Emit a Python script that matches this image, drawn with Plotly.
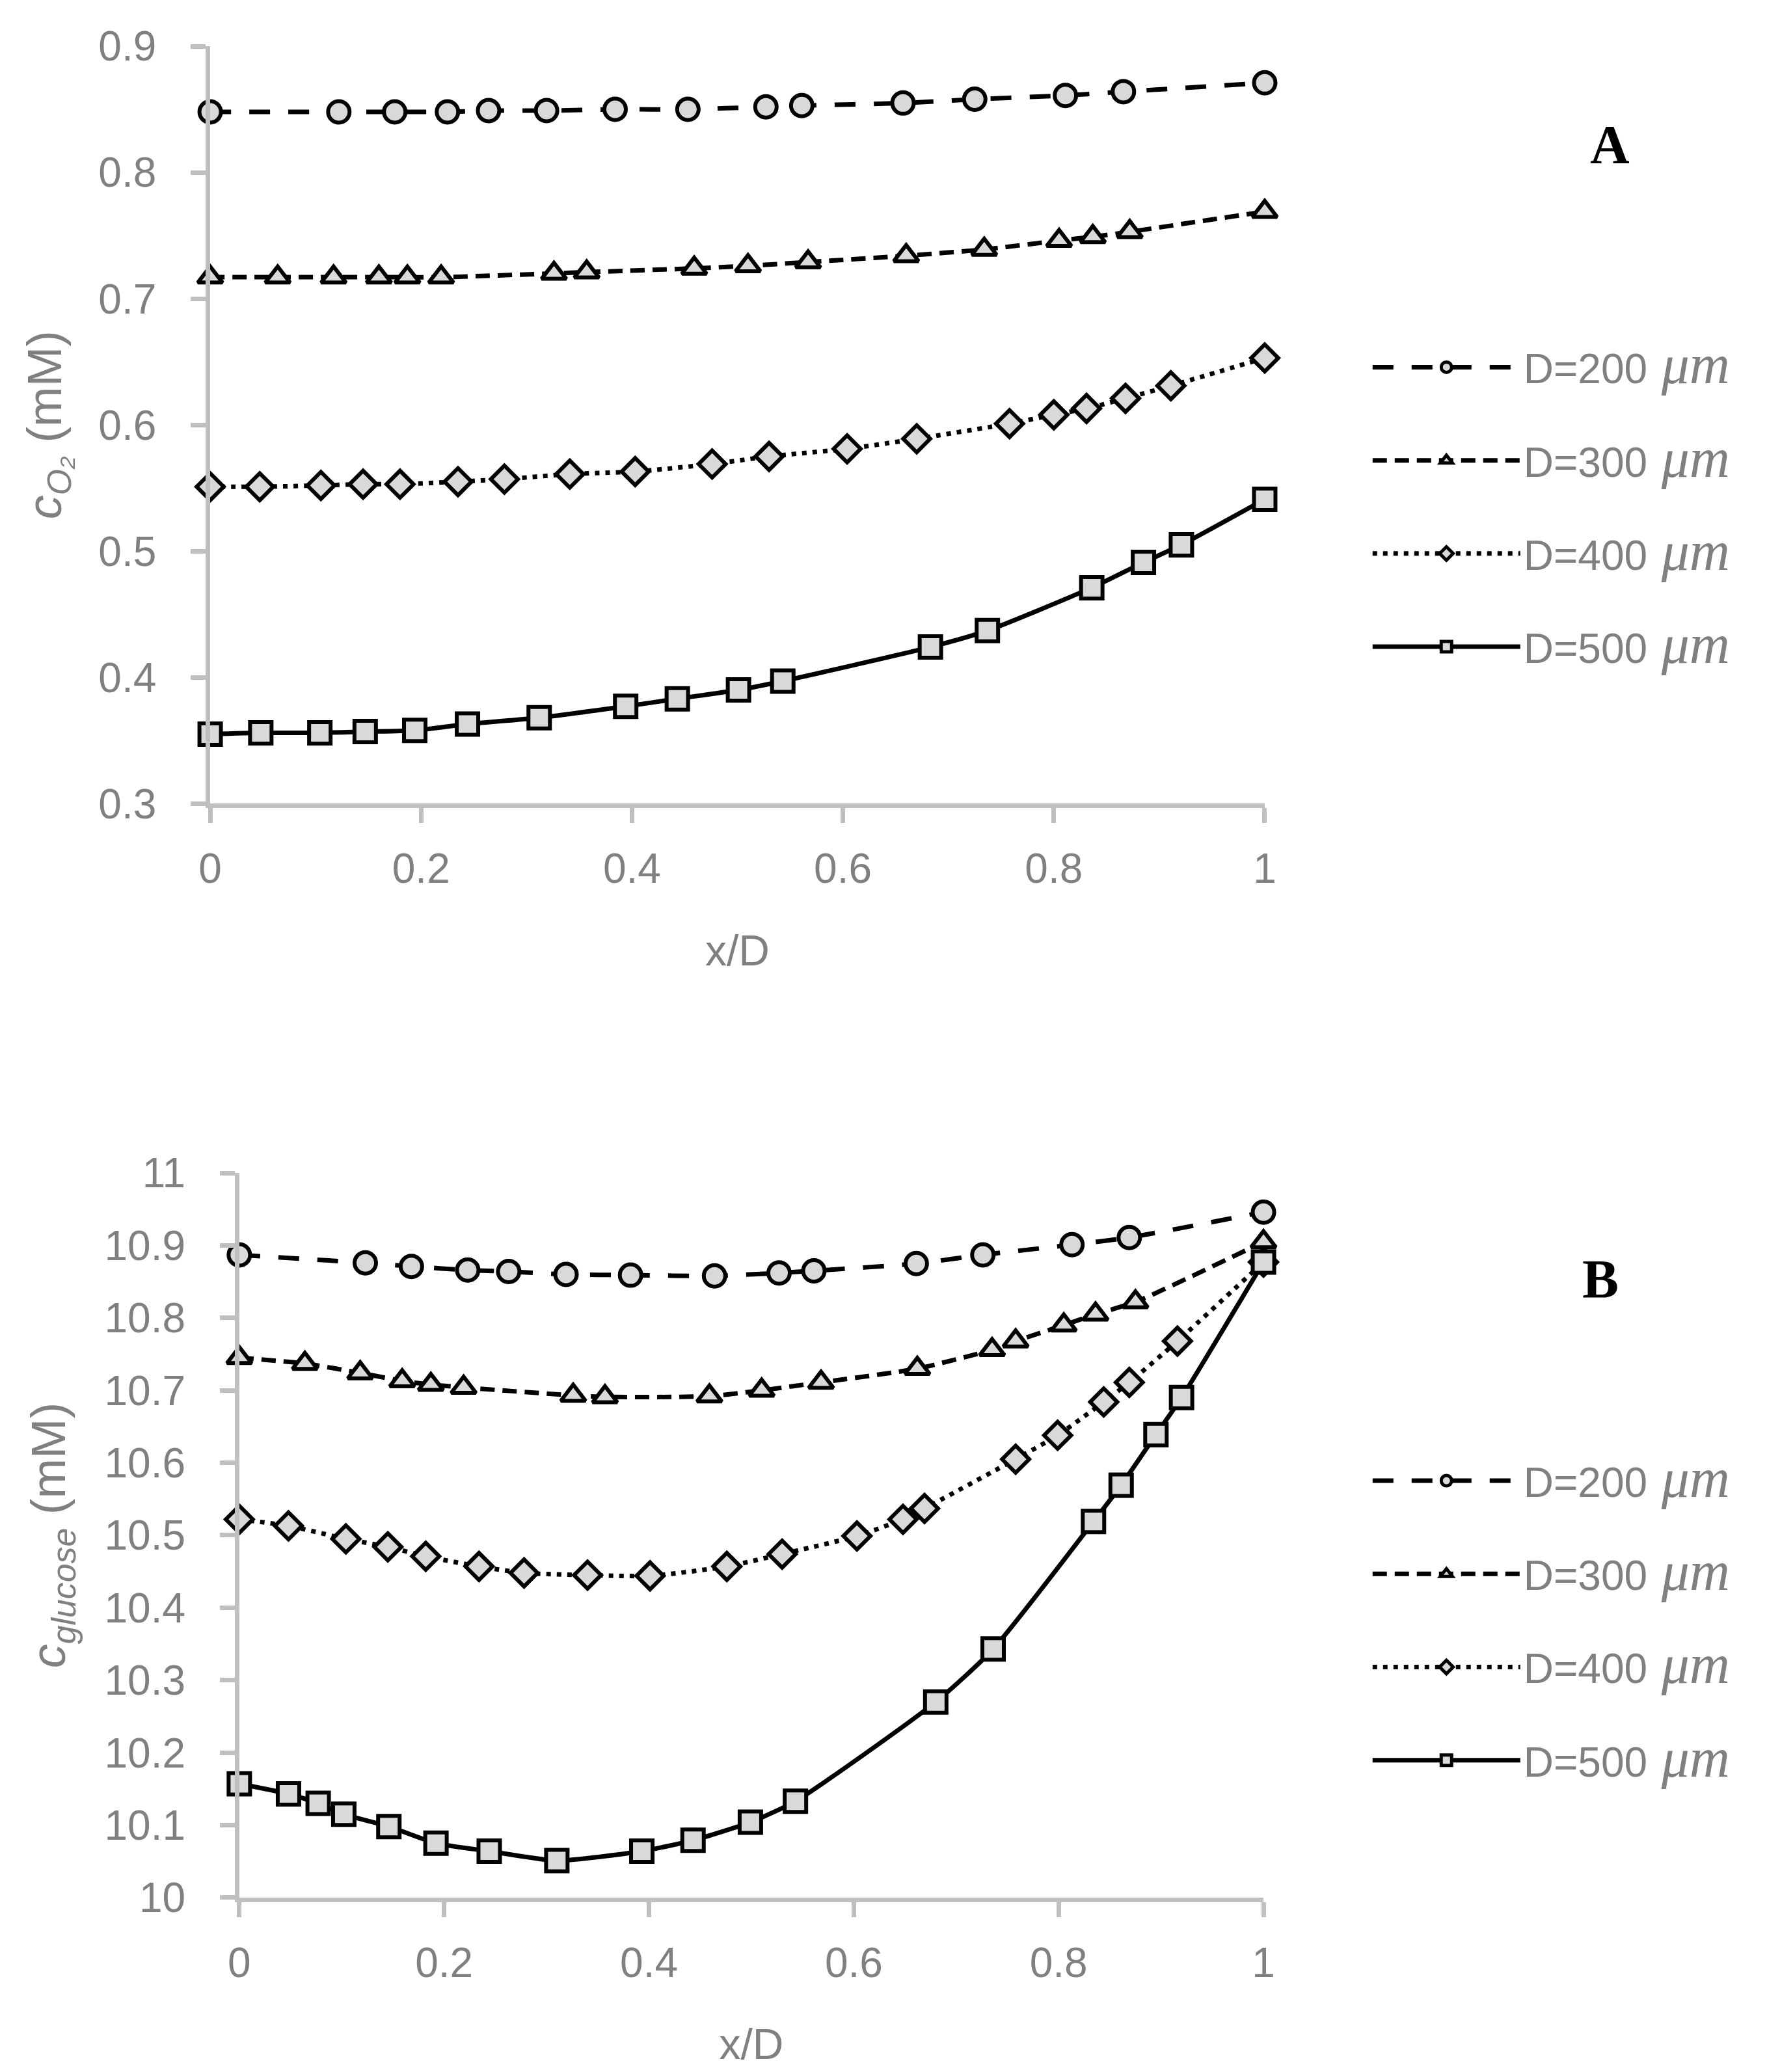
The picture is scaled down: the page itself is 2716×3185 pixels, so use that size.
import plotly.graph_objects as go

# ---- panel A: oxygen concentration vs x/D ----
a200_x = [0, 0.122, 0.175, 0.225, 0.264, 0.319, 0.384, 0.453, 0.527, 0.561, 0.657, 0.725, 0.811, 0.866, 1.0]
a200_y = [0.848, 0.848, 0.848, 0.848, 0.849, 0.849, 0.850, 0.850, 0.852, 0.853, 0.855, 0.858, 0.861, 0.864, 0.871]

a300_x = [0, 0.064, 0.117, 0.160, 0.187, 0.219, 0.326, 0.357, 0.459, 0.510, 0.567, 0.660, 0.734, 0.805, 0.837, 0.872, 1.0]
a300_y = [0.717, 0.717, 0.717, 0.717, 0.717, 0.717, 0.720, 0.721, 0.724, 0.726, 0.729, 0.734, 0.739, 0.746, 0.749, 0.753, 0.769]

a400_x = [0, 0.047, 0.105, 0.145, 0.180, 0.235, 0.279, 0.341, 0.403, 0.476, 0.530, 0.604, 0.670, 0.758, 0.800, 0.831, 0.868, 0.911, 1.0]
a400_y = [0.551, 0.551, 0.552, 0.553, 0.553, 0.555, 0.557, 0.561, 0.563, 0.569, 0.575, 0.581, 0.589, 0.601, 0.608, 0.613, 0.621, 0.631, 0.653]

a500_x = [0, 0.048, 0.104, 0.147, 0.194, 0.244, 0.312, 0.394, 0.443, 0.501, 0.543, 0.683, 0.737, 0.836, 0.885, 0.921, 1.0]
a500_y = [0.355, 0.356, 0.356, 0.357, 0.358, 0.363, 0.368, 0.377, 0.383, 0.390, 0.397, 0.424, 0.437, 0.471, 0.491, 0.505, 0.541]

# ---- panel B: glucose concentration vs x/D ----
b200_x = [0, 0.123, 0.168, 0.223, 0.263, 0.319, 0.382, 0.464, 0.527, 0.561, 0.661, 0.726, 0.813, 0.869, 1.0]
b200_y = [10.887, 10.876, 10.871, 10.866, 10.864, 10.860, 10.859, 10.858, 10.862, 10.865, 10.875, 10.887, 10.901, 10.911, 10.946]

b300_x = [0, 0.064, 0.118, 0.159, 0.187, 0.219, 0.326, 0.357, 0.459, 0.510, 0.568, 0.662, 0.735, 0.758, 0.805, 0.836, 0.875, 1.0]
b300_y = [10.745, 10.737, 10.724, 10.713, 10.708, 10.704, 10.693, 10.691, 10.692, 10.700, 10.711, 10.730, 10.756, 10.768, 10.790, 10.805, 10.822, 10.905]

b400_x = [0, 0.048, 0.104, 0.145, 0.182, 0.234, 0.278, 0.340, 0.401, 0.476, 0.530, 0.603, 0.648, 0.669, 0.758, 0.799, 0.844, 0.869, 0.916, 1.0]
b400_y = [10.522, 10.513, 10.495, 10.484, 10.471, 10.457, 10.448, 10.445, 10.444, 10.457, 10.474, 10.499, 10.522, 10.537, 10.605, 10.638, 10.684, 10.711, 10.768, 10.877]

b500_x = [0, 0.048, 0.077, 0.102, 0.146, 0.192, 0.244, 0.310, 0.393, 0.443, 0.499, 0.543, 0.680, 0.736, 0.834, 0.861, 0.895, 0.920, 1.0]
b500_y = [10.157, 10.143, 10.130, 10.115, 10.098, 10.075, 10.064, 10.051, 10.064, 10.079, 10.104, 10.133, 10.270, 10.343, 10.519, 10.569, 10.639, 10.690, 10.877]

labels = ["D=200", "D=300", "D=400", "D=500"]

FONT = "Liberation Sans, Arial, sans-serif"
SERIF = "Liberation Serif, Times New Roman, serif"
GREY = "#808080"
AXIS = "#bfbfbf"
FILL = "#d9d9d9"

# line dash / marker symbol per series
styles = [
    dict(dash="32px,28px", symbol="circle", size=33),
    dict(dash="22px,12px", symbol="triangle-up", size=33),
    dict(dash="7px,9px", symbol="diamond", size=32),
    dict(dash="solid", symbol="square", size=33),
]

fig = go.Figure()

panel_a = [(a200_x, a200_y), (a300_x, a300_y), (a400_x, a400_y), (a500_x, a500_y)]
panel_b = [(b200_x, b200_y), (b300_x, b300_y), (b400_x, b400_y), (b500_x, b500_y)]

unit = '<span style="font-family:Liberation Serif;font-size:86px"><i>\u00a0\u03bcm</i></span>'

for panel, (xa, ya, leg) in [(panel_a, ("x", "y", "legend")), (panel_b, ("x2", "y2", "legend2"))]:
    for i, (xs, ys) in enumerate(panel):
        st = styles[i]
        fig.add_trace(go.Scatter(
            x=xs, y=ys, xaxis=xa, yaxis=ya, legend=leg,
            mode="lines+markers",
            name=labels[i] + unit,
            legendgroup=leg + str(i),
            line=dict(color="black", width=7, dash=st["dash"], shape="spline", smoothing=0.6),
            marker=dict(symbol=st["symbol"], size=st["size"], color=FILL,
                        line=dict(color="black", width=6)),
            cliponaxis=False,
        ))

xaxis_common = dict(
    range=[0, 1], dtick=0.2, tick0=0, showgrid=False, zeroline=False, automargin=False,
    showline=True, linecolor=AXIS, linewidth=7,
    ticks="outside", ticklen=23, tickwidth=7, tickcolor=AXIS,
    tickfont=dict(family=FONT, size=64, color=GREY),
    ticklabelstandoff=15,
    title=dict(text="x/D", font=dict(family=FONT, size=66, color=GREY), standoff=70),
)
yaxis_common = dict(
    showgrid=False, zeroline=False, automargin=False,
    showline=True, linecolor=AXIS, linewidth=7,
    ticks="outside", ticklen=23, tickwidth=7, tickcolor=AXIS,
    tickfont=dict(family=FONT, size=64, color=GREY),
    ticklabelstandoff=40,
)

legend_common = dict(
    font=dict(family=FONT, size=64, color=GREY),
    bgcolor="rgba(0,0,0,0)", tracegroupgap=57, itemwidth=227,
    xanchor="left", yanchor="top",
)

fig.update_layout(
    template="none",
    width=2716, height=3185,
    paper_bgcolor="white", plot_bgcolor="white",
    margin=dict(l=0, r=0, t=0, b=0, pad=0),
    xaxis=dict(xaxis_common, domain=[0.116, 0.7128], anchor="y"),
    yaxis=dict(yaxis_common, domain=[0.6147, 0.9802], range=[0.3, 0.9], dtick=0.1, anchor="x",
               title=dict(text="<i>c</i><sub><i>O\u2082</i></sub> (mM)",
                          font=dict(family=FONT, size=74, color=GREY), standoff=35)),
    xaxis2=dict(xaxis_common, domain=[0.1325, 0.7121], anchor="y2"),
    yaxis2=dict(yaxis_common, domain=[0.0867, 0.4364], range=[10, 11], dtick=0.1, anchor="x2",
                title=dict(text="<i>c</i><sub><i>glucose</i></sub> (mM)",
                           font=dict(family=FONT, size=74, color=GREY), standoff=38)),
    legend=dict(legend_common, x=0.772, y=0.8404),
    legend2=dict(legend_common, x=0.772, y=0.3030),
    annotations=[
        dict(text="<b>A</b>", x=0.9080, y=0.9328, xref="paper", yref="paper", showarrow=False,
             xanchor="center", yanchor="middle",
             font=dict(family=SERIF, size=84, color="black")),
        dict(text="<b>B</b>", x=0.9028, y=0.3852, xref="paper", yref="paper", showarrow=False,
             xanchor="center", yanchor="middle",
             font=dict(family=SERIF, size=84, color="black")),
    ],
)

fig.write_html("out.html")
